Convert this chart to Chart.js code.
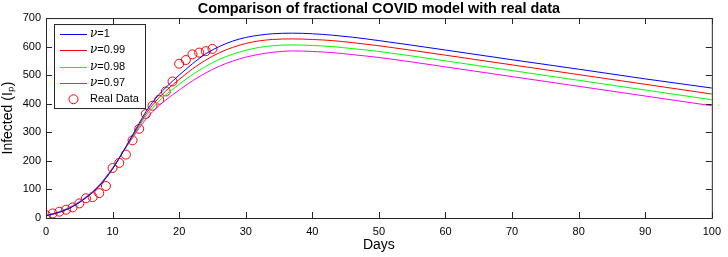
<!DOCTYPE html>
<html lang="en">
<head>
    <meta charset="UTF-8">
    <title>Comparison of fractional COVID model with real data</title>
    <script src="https://cdn.jsdelivr.net/npm/chart.js"></script>
    <style>
        html, body { margin: 0; padding: 0; background: #fff; }
        canvas { display: block; }
    </style>
</head>
<body>
<canvas id="covidChart" width="728" height="257"></canvas>

<script>
    // Real data (days 0..25)
    const dataDays = [0,1,2,3,4,5,6,7,8,9,10,11,12,13,14,15,16,17,18,19,20,21,22,23,24,25];
    const realData = [10,16,22,29,37,51,69,73,87,112,175,193,222,272,312,364,393,414,443,478,540,553,573,579,584,592];

    // Model curves
    const curveDays = [0,2,4,6,8,10,12,13,14,15,16,17,18,19,20,22,24,26,28,30,32,34,37,40,43,46,50,60,70,80,90,100];
    const nu1   = [8,20,40,71,112,172,250,291,332,372,405,433,457,479,500,540,575,600,619,632,640,645,647,645,640,633,621,588,554,521,487,455];
    const nu099 = [8,20,40,71,112,172,248,287,326,364,395,422,445,466,485,522,553,578,597,611,620,625,627,625,621,614,603,570,536,502,468,434];
    const nu098 = [8,21,41,72,114,174,247,283,320,356,385,410,432,450,468,502,531,555,573,587,597,603,606,604,600,593,583,550,516,482,448,414];
    const nu097 = [9,22,43,74,116,176,247,280,314,346,372,394,413,431,448,480,508,531,549,563,573,580,585,583,579,572,562,529,495,461,427,393];

    const seriesLabels = ['=1', '=0.99', '=0.98', '=0.97'];
    const seriesColors = ['#0000ff', '#ff0000', '#00ff00', '#ff00ff'];

    const xTicks = [0,10,20,30,40,50,60,70,80,90,100];
    const yTicks = [0,100,200,300,400,500,600,700];

    const axisColor = '#262626';
    const fontFamily = '"Liberation Sans", Arial, sans-serif';

    function toPoints(xs, ys) {
        return xs.map((x, i) => ({ x: x, y: ys[i] }));
    }

    const lineSets = [nu1, nu099, nu098, nu097].map((vals, i) => ({
        label: 'ν' + seriesLabels[i],
        data: toPoints(curveDays, vals),
        borderColor: seriesColors[i],
        borderWidth: 1,
        pointRadius: 0,
        fill: false,
        cubicInterpolationMode: 'monotone',
        showLine: true
    }));

    // box + inward ticks on all four sides (MATLAB style)
    const boxPlugin = {
        id: 'boxTicks',
        afterDatasetsDraw(chart) {
            const { ctx, chartArea: a, scales } = chart;
            const len = 6;
            ctx.save();
            ctx.strokeStyle = axisColor;
            ctx.lineWidth = 1;
            ctx.strokeRect(a.left + 0.5, a.top + 0.5, a.right - a.left, a.bottom - a.top);
            ctx.beginPath();
            xTicks.forEach(v => {
                const px = Math.round(scales.x.getPixelForValue(v)) + 0.5;
                ctx.moveTo(px, a.bottom); ctx.lineTo(px, a.bottom - len);
                ctx.moveTo(px, a.top); ctx.lineTo(px, a.top + len);
            });
            yTicks.forEach(v => {
                const py = Math.round(scales.y.getPixelForValue(v)) + 0.5;
                ctx.moveTo(a.left, py); ctx.lineTo(a.left + len, py);
                ctx.moveTo(a.right, py); ctx.lineTo(a.right - len, py);
            });
            ctx.stroke();
            ctx.restore();
        }
    };

    // legend box in the upper left corner of the axes
    const legendPlugin = {
        id: 'insideLegend',
        afterDraw(chart) {
            const { ctx, chartArea: a } = chart;
            const x0 = a.left + 8, y0 = a.top + 6, w = 91, h = 84;
            ctx.save();
            ctx.fillStyle = '#fff';
            ctx.fillRect(x0, y0, w, h);
            ctx.strokeStyle = axisColor;
            ctx.lineWidth = 1;
            ctx.strokeRect(x0 + 0.5, y0 + 0.5, w, h);
            ctx.textBaseline = 'middle';
            const rowY = i => y0 + 10 + i * 16.3;
            chart.data.datasets.forEach((ds, i) => {
                const y = rowY(i);
                const lx = x0 + 6;
                if (ds.showLine) {
                    ctx.strokeStyle = ds.borderColor;
                    ctx.beginPath();
                    ctx.moveTo(lx, Math.round(y) + 0.5);
                    ctx.lineTo(lx + 27, Math.round(y) + 0.5);
                    ctx.stroke();
                    ctx.fillStyle = '#000';
                    ctx.font = 'italic 12px "DejaVu Serif", serif';
                    ctx.fillText('ν', x0 + 36, y);
                    const nw = ctx.measureText('ν').width;
                    ctx.font = '11px ' + fontFamily;
                    ctx.fillText(seriesLabels[i], x0 + 36 + nw, y);
                } else {
                    ctx.strokeStyle = ds.borderColor;
                    ctx.beginPath();
                    ctx.arc(lx + 13.5, y, 4.5, 0, Math.PI * 2);
                    ctx.stroke();
                    ctx.fillStyle = '#000';
                    ctx.font = '11px ' + fontFamily;
                    ctx.fillText(ds.label, x0 + 36, y);
                }
            });
            ctx.restore();
        }
    };

    const ctx = document.getElementById('covidChart').getContext('2d');
    new Chart(ctx, {
        type: 'scatter',
        data: {
            datasets: lineSets.concat([{
                label: 'Real Data',
                data: toPoints(dataDays, realData),
                showLine: false,
                pointStyle: 'circle',
                pointRadius: 4.5,
                borderColor: '#ff0000',
                backgroundColor: 'rgba(0,0,0,0)',
                borderWidth: 1
            }])
        },
        options: {
            responsive: false,
            animation: false,
            layout: { padding: { top: 0, right: 10, left: 0, bottom: 0 } },
            plugins: {
                legend: { display: false },
                tooltip: { enabled: false },
                title: {
                    display: true,
                    fullSize: false,
                    text: 'Comparison of fractional COVID model with real data',
                    color: '#000',
                    font: { family: fontFamily, size: 14.4, weight: 'bold', lineHeight: 1.1 },
                    padding: { top: 1, bottom: 1.2 }
                }
            },
            scales: {
                x: {
                    type: 'linear',
                    min: 0, max: 100,
                    afterFit: s => { s.height = 39; },
                    afterBuildTicks: s => { s.ticks = xTicks.map(v => ({ value: v })); },
                    grid: { display: false, drawTicks: false },
                    border: { display: false },
                    ticks: { color: '#000', padding: 7, font: { family: fontFamily, size: 11 }, maxRotation: 0 },
                    title: {
                        display: true, text: 'Days', color: '#000',
                        font: { family: fontFamily, size: 14 },
                        padding: { top: 0, bottom: 3 }
                    }
                },
                y: {
                    min: 0, max: 700,
                    afterFit: s => { s.width = 46; },
                    afterBuildTicks: s => { s.ticks = yTicks.map(v => ({ value: v })); },
                    grid: { display: false, drawTicks: false },
                    border: { display: false },
                    ticks: { color: '#000', padding: 5, font: { family: fontFamily, size: 11 } },
                    title: {
                        display: true, text: 'Infected (Iₚ)', color: '#000',
                        font: { family: fontFamily, size: 14 },
                        padding: 0
                    }
                }
            }
        },
        plugins: [boxPlugin, legendPlugin]
    });
</script>
</body>
</html>
